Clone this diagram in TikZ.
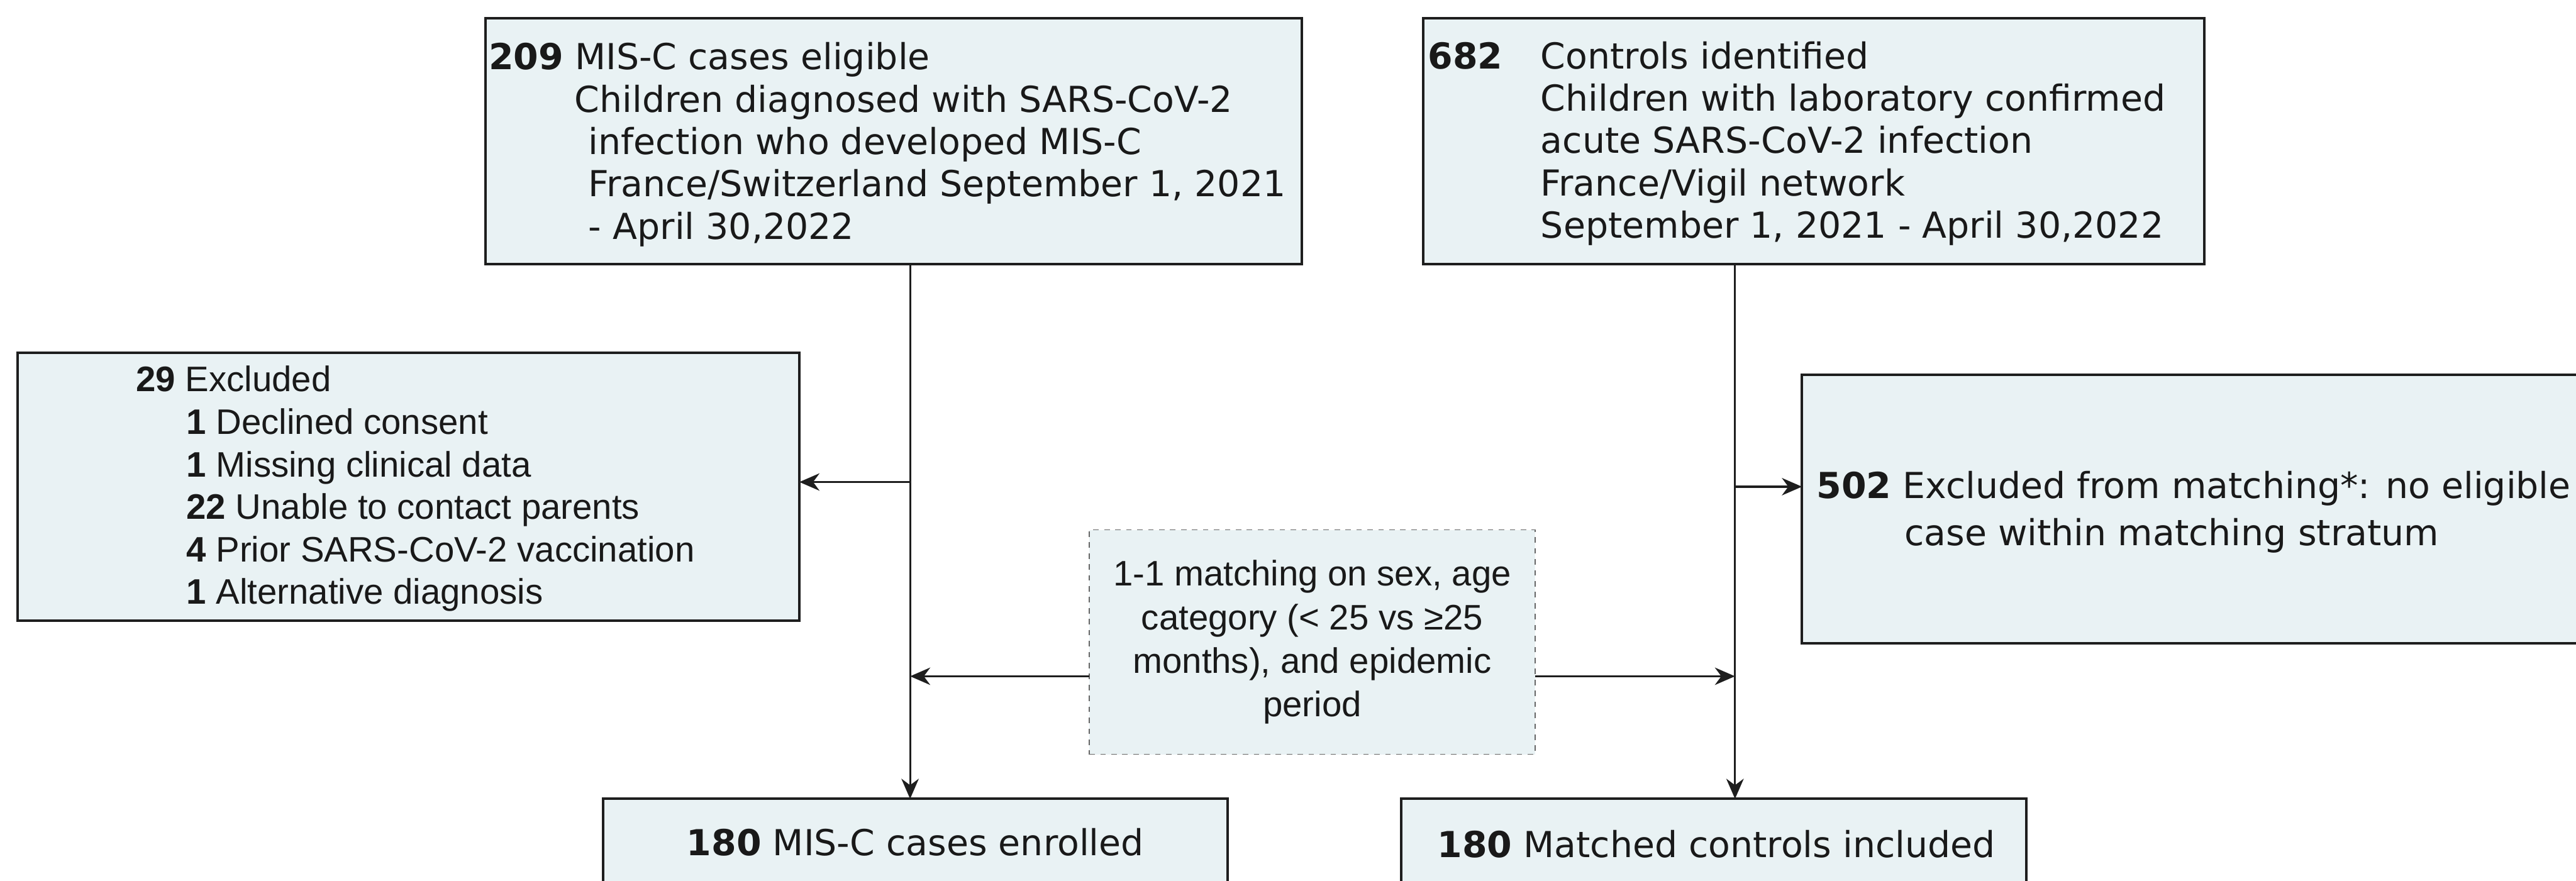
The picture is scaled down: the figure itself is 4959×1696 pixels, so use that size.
\documentclass[tikz,border=0pt]{standalone}
\usepackage{fontspec}
\setmainfont{DejaVu Sans}
\newfontfamily\arialf{Liberation Sans}
\usetikzlibrary{arrows.meta}
\definecolor{boxfill}{RGB}{233,242,244}
\definecolor{edgecol}{RGB}{30,30,30}
\definecolor{txtcol}{RGB}{25,25,25}
\begin{document}
\begin{tikzpicture}[x=0.01cm,y=-0.01cm,
  box/.style={draw=edgecol, line width=1.4pt, fill=boxfill, inner sep=0pt, outer sep=0pt, anchor=north west},
  dbox/.style={draw=black!60, line width=0.6pt, dash pattern=on 3pt off 3pt, fill=boxfill, inner sep=0pt, outer sep=0pt, anchor=north west},
  ltext/.style={inner sep=0pt, outer sep=0pt, anchor=base west, text=txtcol},
  ctext/.style={inner sep=0pt, outer sep=0pt, anchor=base, text=txtcol},
  conn/.style={draw=edgecol, line width=1.1pt, -{Stealth[length=11pt,width=9.5pt,inset=3.5pt]}}
]
\useasboundingbox (0,0) rectangle (4959,1696);
\fill[white] (0,0) rectangle (4959,1696);

% boxes
\node[box, minimum width=15.70cm, minimum height=4.73cm] (A) at (935,35) {};
\node[box, minimum width=15.02cm, minimum height=4.73cm] (B) at (2740,35) {};
\node[box, minimum width=15.04cm, minimum height=5.16cm] (E1) at (34,679) {};
\node[box, minimum width=15.10cm, minimum height=5.16cm] (E2) at (3469,722) {};
\node[dbox, minimum width=8.58cm, minimum height=4.32cm] (M) at (2097,1020) {};
\node[box, minimum width=12.02cm, minimum height=3.00cm] (C1) at (1161,1538) {};
\node[box, minimum width=12.03cm, minimum height=3.00cm] (C2) at (2697,1538) {};

% texts
\node[ltext, font=\fontsize{19.6pt}{0.815cm}\selectfont] (Atext) at (941,134)
 {\parbox[t]{16cm}{\raggedright\textbf{209} MIS-C cases eligible\\
 \hspace*{1.65cm}Children diagnosed with SARS-CoV-2\\
 \hspace*{1.92cm}infection who developed MIS-C\\
 \hspace*{1.92cm}France/Switzerland September 1, 2021\\
 \hspace*{1.92cm}- April 30,2022}};

\node[ltext, font=\fontsize{19.6pt}{0.815cm}\selectfont] (Btext) at (2749,132)
 {\parbox[t]{16cm}{\raggedright\makebox[2.17cm][l]{\textbf{682}}Controls identified\\
 \hspace*{2.17cm}Children with laboratory confirmed\\
 \hspace*{2.17cm}acute SARS-CoV-2 infection\\
 \hspace*{2.17cm}France/Vigil network\\
 \hspace*{2.17cm}September 1, 2021 - April 30,2022}};

\node[ltext, font=\arialf\fontsize{19.4pt}{0.818cm}\selectfont] (E1text) at (262,754)
 {\parbox[t]{14cm}{\raggedright\textbf{29} Excluded\\
 \hspace*{0.97cm}\textbf{1} Declined consent\\
 \hspace*{0.97cm}\textbf{1} Missing clinical data\\
 \hspace*{0.97cm}\textbf{22} Unable to contact parents\\
 \hspace*{0.97cm}\textbf{4} Prior SARS-CoV-2 vaccination\\
 \hspace*{0.97cm}\textbf{1} Alternative diagnosis}};

\node[ltext, font=\fontsize{19.6pt}{0.90cm}\selectfont] (E2text) at (3497,960)
 {\parbox[t]{16cm}{\raggedright\textbf{502} Excluded from matching*: no eligible\\
 \hspace*{1.69cm}case within matching stratum}};

\node[ctext, font=\arialf\fontsize{19.4pt}{0.84cm}\selectfont] (Mtext) at (2526,1128)
 {\parbox[t]{8cm}{\centering 1-1 matching on sex, age\\
 category (< 25 vs ≥25\\
 months), and epidemic\\
 period}};

\node[ltext, font=\fontsize{19.6pt}{0.815cm}\selectfont] (C1text) at (1322,1647) {\textbf{180} MIS-C cases enrolled};
\node[ltext, font=\fontsize{19.6pt}{0.815cm}\selectfont] (C2text) at (2767,1651) {\textbf{180} Matched controls included};

% connectors
\coordinate (L) at (1752,0);
\coordinate (R) at (3340,0);
\coordinate (e1y) at (0,928);
\coordinate (e2y) at (0,937);
\coordinate (my) at (0,1302);
\draw[conn] (A.south -| L) -- (C1.north -| L);
\draw[conn] (B.south -| R) -- (C2.north -| R);
\draw[conn] (L |- e1y) -- (E1.east |- e1y);
\draw[conn] (R |- e2y) -- (E2.west |- e2y);
\draw[conn] (M.west |- my) -- (L |- my);
\draw[conn] (M.east |- my) -- (R |- my);
\end{tikzpicture}
\end{document}
